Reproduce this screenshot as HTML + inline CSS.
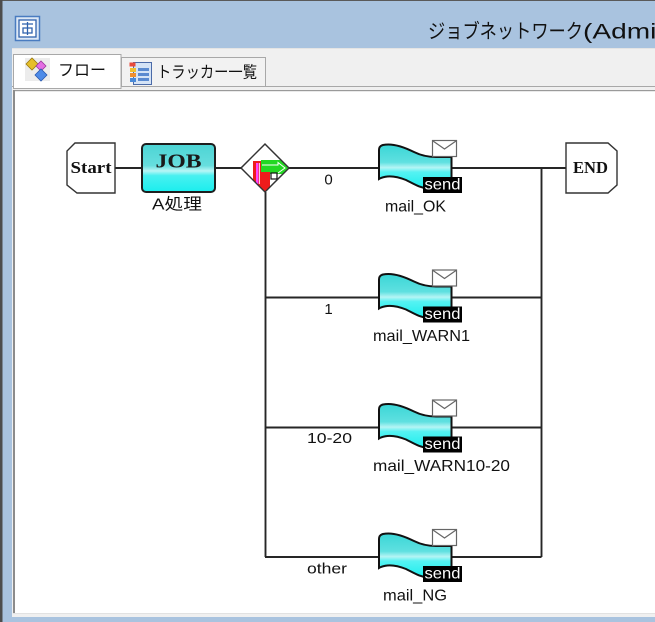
<!DOCTYPE html>
<html><head><meta charset="utf-8"><style>
html,body{margin:0;padding:0;background:#a9c3df;}
body{width:655px;height:622px;overflow:hidden;position:relative;}
svg{position:absolute;left:0;top:0;display:block;}
text{font-family:"Liberation Sans","Noto Sans CJK JP",sans-serif;}
.serif{font-family:"Liberation Serif","Noto Serif CJK SC",serif;font-weight:bold;}
</style></head><body>
<svg width="655" height="622" viewBox="0 0 655 622" xmlns="http://www.w3.org/2000/svg">
<defs>
<linearGradient id="jobg" x1="0" y1="0" x2="0" y2="1">
<stop offset="0" stop-color="#4cd4d4"/><stop offset="0.45" stop-color="#66dede"/><stop offset="0.56" stop-color="#b8f6f6"/><stop offset="0.66" stop-color="#48f0f0"/><stop offset="1" stop-color="#1aeeee"/>
</linearGradient>
<linearGradient id="cy" x1="0" y1="0" x2="0" y2="1">
<stop offset="0" stop-color="#3ad6d6"/><stop offset="0.4" stop-color="#5fe0e0"/><stop offset="0.52" stop-color="#b5f5f5"/><stop offset="0.62" stop-color="#55f2f2"/><stop offset="1" stop-color="#1aeeee"/>
</linearGradient>
<clipPath id="dc"><polygon points="241,168 265,144 289,168 265,192"/></clipPath>
</defs>
<!-- frame -->
<rect x="0" y="0" width="655" height="622" fill="#a9c3df"/>
<rect x="0" y="0" width="655" height="1" fill="#5a5a5a"/>
<rect x="0" y="0" width="2.5" height="622" fill="#4d4d4d"/>
<!-- title icon -->
<rect x="15.5" y="16.5" width="24" height="24" fill="#dde8f6" stroke="#4a7cc0" stroke-width="1.5"/>
<rect x="19" y="20" width="17" height="17" fill="#ffffff" stroke="#2f62ad" stroke-width="1.3"/>
<path d="M22 24 H33 M27.5 22 V35 M23 28 H32 V33 H23 Z" stroke="#2f62ad" stroke-width="1.3" fill="none"/>
<!-- title -->
<text x="428" y="32" font-size="20" dominant-baseline="central" textLength="155" lengthAdjust="spacingAndGlyphs" fill="#111">ジョブネットワーク</text>
<text x="583" y="32" font-size="21" dominant-baseline="central" textLength="89" lengthAdjust="spacingAndGlyphs" fill="#111">(Admin</text>
<!-- panel -->
<rect x="12" y="48" width="643" height="569" fill="#f0f0f0"/>
<rect x="12" y="48" width="643" height="1" fill="#e4e4e4"/>
<!-- tab strip line -->
<rect x="12" y="86" width="643" height="1" fill="#a8a8a8"/>
<!-- content -->
<rect x="13" y="90" width="642" height="523" fill="#ffffff"/>
<rect x="13" y="90" width="642" height="1.2" fill="#9a9a9a"/>
<rect x="13" y="90" width="2" height="523" fill="#8c8c8c"/>
<rect x="13" y="613" width="642" height="1" fill="#e2e2e2"/>
<!-- inactive tab -->
<rect x="121.5" y="57.5" width="144" height="29" fill="#f2f2f2" stroke="#a8a8a8" stroke-width="1"/>
<!-- active tab -->
<rect x="13.5" y="54.5" width="107.5" height="34" fill="#ffffff" stroke="#a8a8a8" stroke-width="1"/>
<!-- flow tab icon -->
<rect x="25" y="58" width="25" height="23" fill="#ececec"/>
<path d="M32 64 L40 66 L41 75" stroke="#6a6a9a" stroke-width="1" fill="none"/>
<polygon points="26,64 32,58 38,64 32,70" fill="#e6bf2a" stroke="#9a7a10" stroke-width="0.8"/>
<polygon points="36,66 41,61 46,66 41,71" fill="#e46ee4" stroke="#9a3a9a" stroke-width="0.8"/>
<polygon points="35,75 41,69 47,75 41,81" fill="#4d8be8" stroke="#2a5ab0" stroke-width="0.8"/>
<text x="58" y="71" font-size="16" dominant-baseline="central" textLength="48" lengthAdjust="spacingAndGlyphs" fill="#111">フロー</text>
<!-- tracker icon -->
<rect x="133.5" y="62.5" width="18" height="22" fill="#d4e3f6" stroke="#4a6aa8" stroke-width="1"/>
<rect x="129.5" y="62.5" width="6" height="4" fill="#e84a3a"/>
<rect x="130" y="68" width="6" height="4" fill="#f0c030"/>
<rect x="130" y="73" width="6" height="4" fill="#f09030"/>
<rect x="130" y="78" width="6" height="4" fill="#4a8ad8"/>
<rect x="138" y="68" width="11" height="3" fill="#5a8ad0"/>
<rect x="138" y="73" width="11" height="3" fill="#5a8ad0"/>
<rect x="138" y="78" width="11" height="3" fill="#5a8ad0"/>
<text x="157" y="73" font-size="16" dominant-baseline="central" textLength="100" lengthAdjust="spacingAndGlyphs" fill="#111">トラッカー一覧</text>

<!-- connectors -->
<g stroke="#262626" stroke-width="1.9" fill="none">
<line x1="115" y1="168" x2="141" y2="168"/>
<line x1="216" y1="168" x2="241" y2="168"/>
<line x1="289" y1="168" x2="379" y2="168"/>
<line x1="451" y1="168" x2="566" y2="168"/>
<line x1="265.5" y1="192" x2="265.5" y2="557"/>
<line x1="541.5" y1="168" x2="541.5" y2="557"/>
<line x1="265" y1="297.5" x2="379" y2="297.5"/>
<line x1="451" y1="297.5" x2="541.5" y2="297.5"/>
<line x1="265" y1="427.5" x2="379" y2="427.5"/>
<line x1="451" y1="427.5" x2="541.5" y2="427.5"/>
<line x1="265" y1="557" x2="379" y2="557"/>
<line x1="451" y1="557" x2="541.5" y2="557"/>
</g>

<!-- Start -->
<path d="M75 143 L115 143 L115 193 L77 193 L67 185 L67 151 Z" fill="#fff" stroke="#333" stroke-width="1.4"/>
<text class="serif" x="91" y="167.5" font-size="17" text-anchor="middle" dominant-baseline="central" textLength="41" lengthAdjust="spacingAndGlyphs" fill="#111">Start</text>

<!-- JOB -->
<rect x="142" y="144" width="73" height="48" rx="4" ry="4" fill="url(#jobg)" stroke="#1e1e1e" stroke-width="2"/>
<text class="serif" x="178.5" y="161.5" font-size="20" text-anchor="middle" dominant-baseline="central" textLength="46" lengthAdjust="spacingAndGlyphs" fill="#1a1a1a">JOB</text>
<text x="152" y="205" font-size="16" dominant-baseline="central" textLength="50" lengthAdjust="spacingAndGlyphs" fill="#111">A処理</text>

<!-- Diamond -->
<polygon points="241,168 265,144 289,168 265,192" fill="#fff" stroke="#333" stroke-width="1.3"/>
<g clip-path="url(#dc)">
<polygon points="253,161 261,161 261,172 270,172 270,187 265,192 253,180" fill="#ee1c1c"/>
<rect x="256" y="163" width="2.5" height="21" fill="#ff44ff"/>
<line x1="259.5" y1="163" x2="259.5" y2="184" stroke="#fff" stroke-width="0.8"/>
<polygon points="261,160 282,160 289,168 283,174 270,174 270,172 261,172" fill="#22d822"/>
<polyline points="262,165 278,165 278,162.5 285,168 278,173" stroke="#fff" stroke-width="1" fill="none"/>
<rect x="271" y="173" width="6" height="6" fill="#fff" stroke="#111" stroke-width="1.2"/>
</g>
<polygon points="241,168 265,144 289,168 265,192" fill="none" stroke="#333" stroke-width="1.3"/>

<!-- END -->
<path d="M566 143 L608 143 L617 151 L617 185 L608 193 L566 193 Z" fill="#fff" stroke="#333" stroke-width="1.4"/>
<text class="serif" x="590.5" y="167.5" font-size="17" text-anchor="middle" dominant-baseline="central" textLength="35" lengthAdjust="spacingAndGlyphs" fill="#111">END</text>

<!-- mail nodes -->
<g transform="translate(0,168)">
<path d="M379 11 L379 -18 Q379 -22 383 -23 C392 -25 404 -21 414 -16 C421 -12.5 427 -11 436 -11 L451.5 -11 L451.5 21 L430 21 C420 20 414 16 406 12 C396 8 386 7 379 11 Z" fill="url(#cy)" stroke="#111" stroke-width="2"/>
<rect x="432.5" y="-27.5" width="24" height="16" fill="#fff" stroke="#666" stroke-width="1.2"/>
<polyline points="433,-27 444.5,-19 456,-27" fill="none" stroke="#666" stroke-width="1.2"/>
<rect x="423" y="9" width="39" height="16" fill="#000"/>
<text x="424.5" y="17" font-size="16" dominant-baseline="central" textLength="36" lengthAdjust="spacingAndGlyphs" fill="#fff">send</text>
<text x="385" y="39" font-size="16" dominant-baseline="central" textLength="61" lengthAdjust="spacingAndGlyphs" fill="#111">mail_OK</text>
<text x="328.5" y="12" font-size="15" text-anchor="middle" dominant-baseline="central" fill="#111">0</text>
</g>
<g transform="translate(0,297.5)">
<path d="M379 11 L379 -18 Q379 -22 383 -23 C392 -25 404 -21 414 -16 C421 -12.5 427 -11 436 -11 L451.5 -11 L451.5 21 L430 21 C420 20 414 16 406 12 C396 8 386 7 379 11 Z" fill="url(#cy)" stroke="#111" stroke-width="2"/>
<rect x="432.5" y="-27.5" width="24" height="16" fill="#fff" stroke="#666" stroke-width="1.2"/>
<polyline points="433,-27 444.5,-19 456,-27" fill="none" stroke="#666" stroke-width="1.2"/>
<rect x="423" y="9" width="39" height="16" fill="#000"/>
<text x="424.5" y="17" font-size="16" dominant-baseline="central" textLength="36" lengthAdjust="spacingAndGlyphs" fill="#fff">send</text>
<text x="373" y="39" font-size="16" dominant-baseline="central" textLength="97" lengthAdjust="spacingAndGlyphs" fill="#111">mail_WARN1</text>
<text x="328.5" y="12" font-size="15" text-anchor="middle" dominant-baseline="central" fill="#111">1</text>
</g>
<g transform="translate(0,427.5)">
<path d="M379 11 L379 -18 Q379 -22 383 -23 C392 -25 404 -21 414 -16 C421 -12.5 427 -11 436 -11 L451.5 -11 L451.5 21 L430 21 C420 20 414 16 406 12 C396 8 386 7 379 11 Z" fill="url(#cy)" stroke="#111" stroke-width="2"/>
<rect x="432.5" y="-27.5" width="24" height="16" fill="#fff" stroke="#666" stroke-width="1.2"/>
<polyline points="433,-27 444.5,-19 456,-27" fill="none" stroke="#666" stroke-width="1.2"/>
<rect x="423" y="9" width="39" height="16" fill="#000"/>
<text x="424.5" y="17" font-size="16" dominant-baseline="central" textLength="36" lengthAdjust="spacingAndGlyphs" fill="#fff">send</text>
<text x="373" y="39" font-size="16" dominant-baseline="central" textLength="137" lengthAdjust="spacingAndGlyphs" fill="#111">mail_WARN10-20</text>
<text x="307" y="11" font-size="15" dominant-baseline="central" textLength="45" lengthAdjust="spacingAndGlyphs" fill="#111">10-20</text>
</g>
<g transform="translate(0,557)">
<path d="M379 11 L379 -18 Q379 -22 383 -23 C392 -25 404 -21 414 -16 C421 -12.5 427 -11 436 -11 L451.5 -11 L451.5 21 L430 21 C420 20 414 16 406 12 C396 8 386 7 379 11 Z" fill="url(#cy)" stroke="#111" stroke-width="2"/>
<rect x="432.5" y="-27.5" width="24" height="16" fill="#fff" stroke="#666" stroke-width="1.2"/>
<polyline points="433,-27 444.5,-19 456,-27" fill="none" stroke="#666" stroke-width="1.2"/>
<rect x="423" y="9" width="39" height="16" fill="#000"/>
<text x="424.5" y="17" font-size="16" dominant-baseline="central" textLength="36" lengthAdjust="spacingAndGlyphs" fill="#fff">send</text>
<text x="383" y="39" font-size="16" dominant-baseline="central" textLength="64" lengthAdjust="spacingAndGlyphs" fill="#111">mail_NG</text>
<text x="307" y="12" font-size="15" dominant-baseline="central" textLength="40" lengthAdjust="spacingAndGlyphs" fill="#111">other</text>
</g>
</svg>
</body></html>
